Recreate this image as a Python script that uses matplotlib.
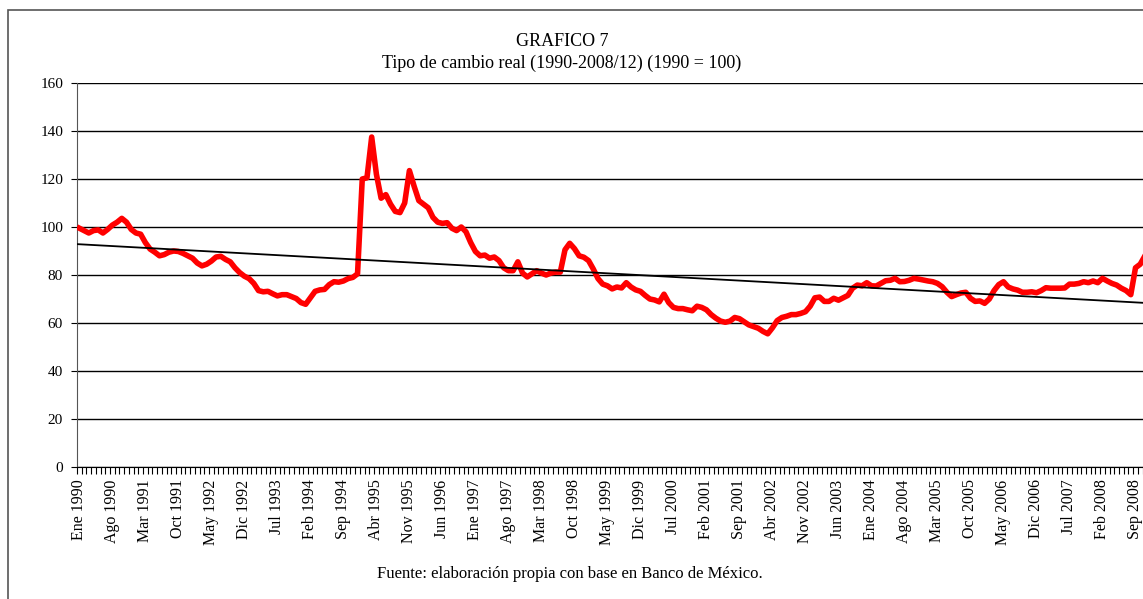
import matplotlib
matplotlib.use("Agg")
import matplotlib.pyplot as plt
import numpy as np
from matplotlib.patches import Rectangle
from matplotlib.ticker import FixedLocator

# monthly real exchange rate index, Ene 1990 .. Dic 2008 (1990 = 100)
tipo_cambio = [
    99.5, 98.5, 97.5, 98.5, 98.8, 97.5, 99.0, 100.8, 102.0, 103.6, 102.0, 99.0,
    97.5, 97.0, 93.5, 90.8, 89.5, 88.0, 88.5, 89.5, 90.0, 89.8, 89.0, 88.0,
    87.0, 85.0, 83.8, 84.5, 85.8, 87.5, 87.8, 86.5, 85.5, 83.0, 81.0, 79.5,
    78.5, 76.5, 73.5, 73.0, 73.2, 72.2, 71.3, 71.8, 71.8, 71.0, 70.2, 68.5,
    67.8, 70.5, 73.2, 73.8, 74.0, 76.0, 77.2, 77.0, 77.5, 78.5, 79.0, 80.5,
    120.0, 120.5, 137.5, 122.0, 112.0, 113.5, 109.5, 106.5, 106.0, 110.0, 123.5, 117.0,
    111.0, 109.5, 108.0, 104.0, 102.0, 101.5, 101.8, 99.5, 98.5, 100.0, 98.0, 93.5,
    89.8, 88.0, 88.3, 87.0, 87.5, 86.0, 83.0, 81.8, 81.8, 85.5, 80.8, 79.2,
    80.5, 81.8, 80.8, 80.0, 80.8, 81.2, 81.2, 90.5, 93.2, 91.0, 88.0, 87.4,
    86.0, 82.5, 78.5, 76.2, 75.5, 74.2, 75.0, 74.6, 76.8, 75.0, 73.8, 73.2,
    71.5, 70.0, 69.6, 68.8, 72.0, 68.5, 66.5, 66.0, 66.0, 65.5, 65.1, 67.0,
    66.5, 65.5, 63.5, 62.0, 60.8, 60.3, 60.8, 62.3, 61.8, 60.5, 59.2, 58.5,
    57.8, 56.5, 55.5, 58.0, 61.0, 62.3, 62.8, 63.5, 63.5, 64.0, 64.7, 67.0,
    70.5, 70.8, 69.0, 69.0, 70.3, 69.5, 70.5, 71.5, 74.5, 75.8, 75.5, 76.8,
    75.5, 75.4, 76.5, 77.6, 77.8, 78.6, 77.2, 77.3, 77.8, 78.6, 78.3, 77.9,
    77.5, 77.2, 76.5, 75.1, 72.8, 71.0, 71.8, 72.5, 72.8, 70.3, 69.0, 69.2,
    68.2, 70.0, 73.5, 76.0, 77.2, 75.0, 74.2, 73.7, 72.8, 72.8, 73.0, 72.6,
    73.5, 74.7, 74.5, 74.5, 74.5, 74.6, 76.2, 76.2, 76.5, 77.2, 76.8, 77.5,
    76.8, 78.6, 77.5, 76.5, 75.8, 74.5, 73.5, 71.8, 83.0, 84.5, 88.0, 90.0,
]

meses = ["Ene", "Feb", "Mar", "Abr", "May", "Jun",
         "Jul", "Ago", "Sep", "Oct", "Nov", "Dic"]
etiquetas = [f"{meses[i % 12]} {1990 + i // 12}" for i in range(len(tipo_cambio))]

titulo = "GRAFICO 7"
subtitulo = "Tipo de cambio real (1990-2008/12) (1990 = 100)"
fuente = "Fuente: elaboración propia con base en Banco de México."

plt.rcParams['font.family'] = ['Liberation Serif', 'DejaVu Serif']

W, H = 1143, 599
fig = plt.figure(figsize=(W / 100, H / 100), dpi=100)

# outer chart frame (cropped on the right and bottom like the source)
fig.patches.append(Rectangle((8 / W, -0.05), 1.1, 1 - 10 / H + 0.05,
                             transform=fig.transFigure, fill=False,
                             edgecolor='#555555', linewidth=1.2))

ax = fig.add_axes([77 / W, (H - 467) / H, 1075 / W, 384 / H])

x = np.arange(len(tipo_cambio))
y = np.array(tipo_cambio)
ax.plot(x, y, color='#ff0000', linewidth=4.0, solid_joinstyle='round', zorder=3)

# linear trend line
coef = np.polyfit(x, y, 1)
ax.plot([-0.5, len(x) - 0.5], np.polyval(coef, [-0.5, len(x) - 0.5]),
        color='black', linewidth=1.3, zorder=4)

ax.set_xlim(-0.5, len(x) - 0.5)
ax.set_ylim(0, 160)
ax.set_yticks(np.arange(0, 161, 20))
ax.yaxis.grid(True, color='black', linewidth=1.0)
ax.set_axisbelow(True)

lab_pos = np.arange(0, len(x), 7)
ax.set_xticks(lab_pos)
ax.set_xticklabels([etiquetas[i] for i in lab_pos], rotation=90, fontsize=11.5)
ax.xaxis.set_minor_locator(FixedLocator(np.arange(-0.5, len(x), 1)))
ax.tick_params(axis='x', which='major', length=0, pad=9)
ax.tick_params(axis='x', which='minor', length=5, width=0.8, direction='out')
ax.tick_params(axis='y', length=4, width=0.8, labelsize=11, pad=6)

for s in ['top', 'right']:
    ax.spines[s].set_visible(False)
ax.spines['left'].set_color('#555555')
ax.spines['bottom'].set_color('black')

fig.text(562 / W, 1 - 42 / H, titulo, ha='center', va='center', fontsize=13)
fig.text(562 / W, 1 - 63 / H, subtitulo, ha='center', va='center', fontsize=13)
fig.text(570 / W, 1 - 574 / H, fuente, ha='center', va='center', fontsize=12)

fig.savefig('out.png', dpi=100)
